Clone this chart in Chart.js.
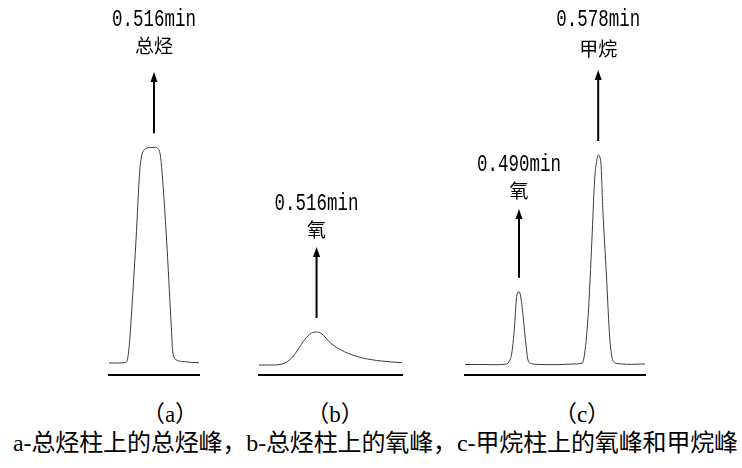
<!DOCTYPE html>
<html>
<head>
<meta charset="utf-8">
<script src="https://cdn.jsdelivr.net/npm/chart.js@4.4.1/dist/chart.umd.min.js"></script>
<style>
  html, body { margin: 0; padding: 0; background: #fff; }
  body { position: relative; width: 742px; height: 468px; overflow: hidden; }
  canvas { position: absolute; top: 0; }
  .panel-label {
    position: absolute; top: 398px; width: 100px; text-align: center;
    font: 23px/28px "Liberation Serif", serif; color: #000;
  }
  .cjk { font-family: "Noto Sans CJK SC", sans-serif; }
  #caption {
    position: absolute; left: 13px; top: 428px; white-space: nowrap;
    font: 24px/30px "Liberation Serif", "Noto Sans CJK SC", serif; color: #000;
  }
</style>
</head>
<body>
<canvas id="chartA"></canvas>
<canvas id="chartB"></canvas>
<canvas id="chartC"></canvas>
<div class="panel-label" style="left:120px"><span class="cjk">（</span>a<span class="cjk">）</span></div>
<div class="panel-label" style="left:285px"><span class="cjk">（</span>b<span class="cjk">）</span></div>
<div class="panel-label" style="left:532px"><span class="cjk">（</span>c<span class="cjk">）</span></div>
<div id="caption">a-总烃柱上的总烃峰，b-总烃柱上的氧峰，c-甲烷柱上的氧峰和甲烷峰</div>
<script>
// (a) total hydrocarbon column: total hydrocarbon peak
var timeA   = [0.466, 0.475, 0.484, 0.487, 0.489, 0.492, 0.496, 0.500, 0.502, 0.506, 0.512,
               0.517, 0.520, 0.523, 0.525, 0.530, 0.535, 0.537, 0.541, 0.550, 0.558, 0.566];
var signalA = [1.0, 1.0, 1.3, 7, 24, 64, 124, 191, 207, 215, 216.5,
               216.7, 215.7, 209, 191, 124, 41, 11, 4, 2.3, 1.6, 1.3];

// (b) total hydrocarbon column: oxygen peak
var timeB   = [0.452, 0.466, 0.480, 0.488, 0.495, 0.503, 0.510, 0.516, 0.521, 0.532, 0.547, 0.566, 0.588, 0.611];
var signalB = [-1, -1, 0.7, 5.7, 14, 24.7, 30.7, 32, 30.7, 20.7, 12.3, 6.3, 3, 1.3];

// (c) methane column: oxygen peak and methane peak
var timeC   = [0.430, 0.445, 0.463, 0.474, 0.479, 0.482, 0.485, 0.487, 0.489, 0.490, 0.492, 0.495,
               0.498, 0.500, 0.504, 0.508, 0.530, 0.550, 0.560, 0.563, 0.567, 0.571, 0.574, 0.576,
               0.578, 0.581, 0.583, 0.587, 0.591, 0.595, 0.600, 0.604, 0.615, 0.630];
var signalC = [-0.5, -0.5, -0.7, -0.3, 2.5, 11, 37, 64, 72, 72.3, 67, 44,
               17, 4, 0.5, -0.3, -0.7, 0, 0.7, 11, 51, 124, 184, 201,
               209, 201, 157, 91, 24, 2.3, 0.5, 0, -0.3, 0];

// time axis range per panel (min)
var rangeA = [0.466, 0.566];
var rangeB = [0.452, 0.611];
var rangeC = [0.430, 0.630];

// retention times and names of the marked peaks
var peakTimesA = [0.516], peakNamesA = ['总烃'];
var peakTimesB = [0.516], peakNamesB = ['氧'];
var peakTimesC = [0.490, 0.578], peakNamesC = ['氧', '甲烷'];

// layout
var PX_PER_MIN = 900;
var PAD = 20;          // canvas margin round the plot area
var AXIS_Y = 375;      // page y of the black baseline
var Y_MIN = -11, Y_MAX = 364;

// arrow tip and text rows (page y) for each marked peak
var markLayoutA = [{ tip: 72, timeY: 19, nameY: 46 }];
var markLayoutB = [{ tip: 247, timeY: 202.5, nameY: 230 }];
var markLayoutC = [{ tip: 209, timeY: 164, nameY: 191 }, { tip: 70, timeY: 19, nameY: 49 }];

var peakMarks = {
    id: 'peakMarks',
    afterDatasetsDraw: function (chart, args, opts) {
        var ctx = chart.ctx;
        var x = chart.scales.x, y = chart.scales.y;
        var pts = chart.data.datasets[0].data;
        opts.times.forEach(function (t, i) {
            var lay = opts.layout[i];
            var px = x.getPixelForValue(t);
            var near = pts.filter(function (p) { return Math.abs(p.x - t) < 0.004; });
            var peak = Math.max.apply(null, near.map(function (p) { return p.y; }));
            var base = y.getPixelForValue(peak) - 14;

            ctx.save();
            ctx.strokeStyle = '#000';
            ctx.fillStyle = '#000';
            ctx.lineWidth = 2;
            ctx.beginPath();
            ctx.moveTo(px, base);
            ctx.lineTo(px, lay.tip + 8);
            ctx.stroke();
            ctx.beginPath();
            ctx.moveTo(px, lay.tip);
            ctx.lineTo(px - 3.5, lay.tip + 10);
            ctx.lineTo(px + 3.5, lay.tip + 10);
            ctx.closePath();
            ctx.fill();

            ctx.textAlign = 'center';
            ctx.textBaseline = 'middle';
            ctx.font = '19px "Noto Sans CJK SC"';
            ctx.fillText(opts.names[i], px, lay.nameY);

            ctx.translate(px, lay.timeY);
            ctx.scale(0.76, 1);
            ctx.font = '23px "Liberation Mono"';
            ctx.fillText(t.toFixed(3) + 'min', 0, 1);
            ctx.restore();
        });
    }
};

function makePanel(id, left, range, times, signal, peakTimes, peakNames, layout) {
    var canvas = document.getElementById(id);
    var w = Math.round((range[1] - range[0]) * PX_PER_MIN) + 2 * PAD;
    var h = AXIS_Y + PAD;
    canvas.width = w;
    canvas.height = h;
    canvas.style.width = w + 'px';
    canvas.style.height = h + 'px';
    canvas.style.left = (left - PAD) + 'px';

    return new Chart(canvas, {
        type: 'line',
        data: {
            datasets: [{
                data: times.map(function (t, i) { return { x: t, y: signal[i] }; }),
                borderColor: '#3a3a3a',
                borderWidth: 1,
                pointRadius: 0,
                fill: false,
                cubicInterpolationMode: 'monotone'
            }]
        },
        options: {
            responsive: false,
            animation: false,
            events: [],
            layout: { padding: { left: PAD, right: PAD, top: 0, bottom: PAD } },
            scales: {
                x: {
                    type: 'linear',
                    min: range[0],
                    max: range[1],
                    grid: { display: false, drawTicks: false },
                    ticks: { display: false },
                    border: { display: true, color: '#000', width: 2 }
                },
                y: { display: false, min: Y_MIN, max: Y_MAX }
            },
            plugins: {
                legend: { display: false },
                tooltip: { enabled: false },
                peakMarks: { times: peakTimes, names: peakNames, layout: layout }
            }
        },
        plugins: [peakMarks]
    });
}

makePanel('chartA', 109, rangeA, timeA, signalA, peakTimesA, peakNamesA, markLayoutA);
makePanel('chartB', 259, rangeB, timeB, signalB, peakTimesB, peakNamesB, markLayoutB);
makePanel('chartC', 465, rangeC, timeC, signalC, peakTimesC, peakNamesC, markLayoutC);

// spread the caption to the width it has in the figure
var caption = document.getElementById('caption');
var natural = caption.getBoundingClientRect().width;
caption.style.letterSpacing = ((725 - natural) / caption.textContent.length) + 'px';
</script>
</body>
</html>
